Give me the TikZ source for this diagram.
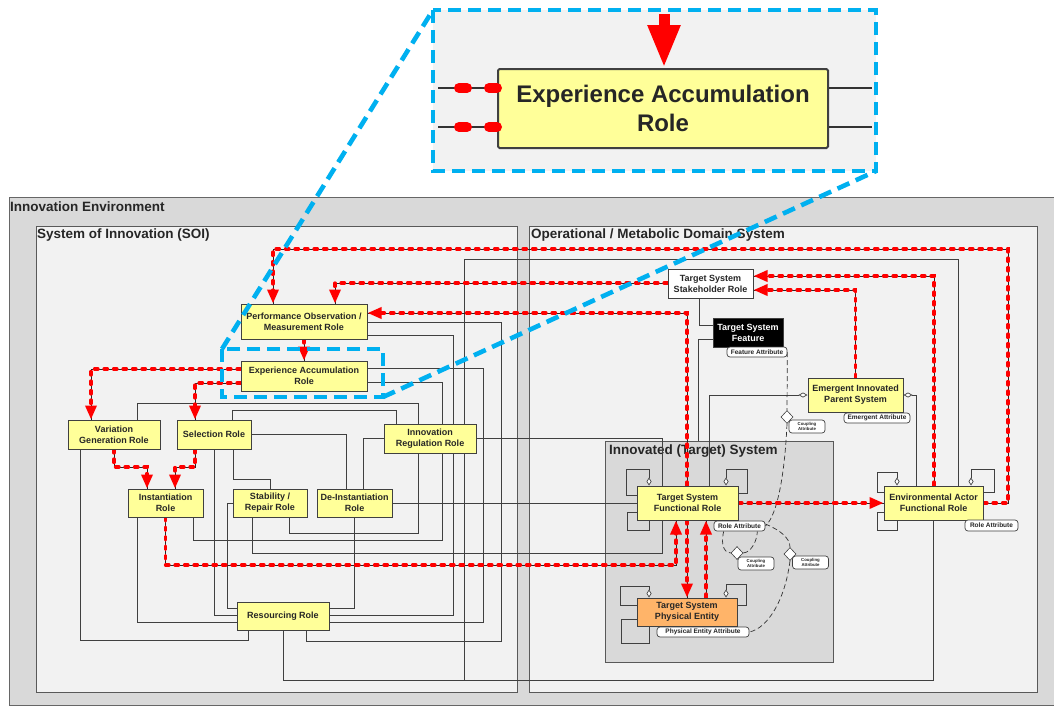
\documentclass[tikz,border=0pt]{standalone}
\usepackage{fontspec}
\setmainfont{Liberation Sans}
\usetikzlibrary{arrows.meta,shapes.geometric}
\definecolor{yel}{HTML}{FFFF99}
\definecolor{envgray}{HTML}{D9D9D9}
\definecolor{boxgray}{HTML}{F2F2F2}
\definecolor{orng}{HTML}{FFB469}
\definecolor{bord}{HTML}{404040}
\definecolor{zoomblue}{HTML}{00B0F0}
\pgfdeclarelayer{bg}
\pgfdeclarelayer{lines}
\pgfdeclarelayer{top}
\pgfsetlayers{bg,lines,main,top}
\begin{document}
\begin{tikzpicture}[x=1pt,y=-1pt,
 role/.style={draw=bord,line width=1pt,fill=yel,align=center,inner sep=0pt,font=\bfseries\fontsize{9}{11}\selectfont,text=black!85},
 attr/.style={draw=bord,line width=0.7pt,fill=white,rounded corners=3pt,inner sep=0pt,align=center,font=\bfseries\fontsize{6.5}{7}\selectfont,text=black!85},
 couple/.style={attr,font=\bfseries\fontsize{4.3}{4.8}\selectfont,minimum width=36pt,minimum height=13pt},
 dia/.style={diamond,draw=bord,fill=white,line width=0.6pt,minimum width=12pt,minimum height=13pt,inner sep=0pt},
 conn/.style={draw=bord,line width=0.9pt},
 agg/.style={conn,-{Diamond[fill=white,length=8pt,width=5pt,line width=0.7pt]}},
 flow/.style={draw=red,line width=3.3pt,line cap=round,dash pattern=on 3.5pt off 6pt,preaction={draw=black!85,line width=0.8pt,solid,-},-{Triangle[length=14pt,width=11pt]}},
 dashc/.style={draw=black!80,line width=0.7pt,dash pattern=on 5pt off 3pt},
 zoomline/.style={draw=zoomblue,line width=4.6pt,dash pattern=on 13pt off 7pt},
 heading/.style={font=\bfseries\fontsize{13.5}{15}\selectfont,text=black!85,inner sep=0pt,anchor=base west},
]
\useasboundingbox (0,0) rectangle (1054,707);

\begin{pgfonlayer}{bg}
\fill[white] (0,0) rectangle (1054,707);
\draw[fill=envgray,draw=black!60,line width=1pt] (9,197) rectangle (1062,705);
\draw[fill=boxgray,draw=black!65,line width=1pt] (36,226) rectangle (517,692);
\draw[fill=boxgray,draw=black!65,line width=1pt] (529,226) rectangle (1037,692);
\draw[fill=envgray,draw=black!65,line width=1pt] (605,441) rectangle (833,662);
\node[heading] (hie) at (10,211) {Innovation Environment};
\node[heading] (hsoi) at (37,238) {System of Innovation (SOI)};
\node[heading] (hop) at (531,238) {Operational / Metabolic Domain System};
\node[heading] (hin) at (609,454) {Innovated (Target) System};
\end{pgfonlayer}

% ---------- nodes ----------
\node[role,minimum width=126pt,minimum height=35pt] (po) at (304,321.5) {Performance Observation /\\Measurement Role};
\node[role,minimum width=126pt,minimum height=30pt] (ea) at (304,376) {Experience Accumulation\\Role};
\node[role,minimum width=92pt,minimum height=29pt] (vg) at (114,434.5) {Variation\\Generation Role};
\node[role,minimum width=74pt,minimum height=29pt] (sel) at (214,434.5) {Selection Role};
\node[role,minimum width=75pt,minimum height=28pt] (inst) at (165.5,503) {Instantiation\\Role};
\node[role,minimum width=74pt,minimum height=28pt] (stab) at (270,503) {Stability /\\Repair Role};
\node[role,minimum width=75pt,minimum height=28pt] (di) at (354.5,503) {De-Instantiation\\Role};
\node[role,minimum width=92pt,minimum height=29pt] (ir) at (430,438.5) {Innovation\\Regulation Role};
\node[role,minimum width=92pt,minimum height=28pt] (res) at (283,616) {Resourcing Role};
\node[role,fill=white,minimum width=85pt,minimum height=29pt] (sh) at (710.5,283.5) {Target System\\Stakeholder Role};
\node[role,fill=black,text=white,minimum width=70pt,minimum height=29pt] (feat) at (748,332.5) {Target System\\Feature};
\node[role,minimum width=95pt,minimum height=34pt] (em) at (855.5,395) {Emergent Innovated\\Parent System};
\node[role,minimum width=101pt,minimum height=34pt] (fr) at (687.5,503) {Target System\\Functional Role};
\node[role,fill=orng,minimum width=100pt,minimum height=28pt] (pe) at (687,612) {Target System\\Physical Entity};
\node[role,minimum width=99pt,minimum height=34pt] (env) at (933.5,503) {Environmental Actor\\Functional Role};

\node[attr,minimum width=60pt,minimum height=10pt] (fa) at (757,352) {Feature Attribute};
\node[attr,minimum width=66pt,minimum height=10pt] (eatt) at (877,418) {Emergent Attribute};
\node[attr,minimum width=51pt,minimum height=10pt] (ra) at (739.5,526) {Role Attribute};
\node[attr,minimum width=53pt,minimum height=11pt] (ra2) at (991.5,525.5) {Role Attribute};
\node[attr,minimum width=92pt,minimum height=10pt] (pa) at (703,632) {Physical Entity Attribute};
\node[dia] (d1) at (787,417) {};
\node[dia] (d2) at (737,553) {};
\node[dia] (d3) at (790,554) {};
\node[couple] (c1) at (807,426.5) {Coupling\\Attribute};
\node[couple] (c2) at (756,563.5) {Coupling\\Attribute};
\node[couple] (c3) at (810.5,562.5) {Coupling\\Attribute};

% ---------- connectors ----------
\begin{pgfonlayer}{lines}
\coordinate (itop) at (698,441);
\draw[conn] (po.east|-0,322) -| (501,641) -| (res.south-|306,0);
\draw[conn] (po.east|-0,335) -| (453,615) -- (res.east|-0,615);
\draw[conn] (ea.east|-0,368) -| (483,622) -- (res.east|-0,622);
\draw[conn] (ea.east|-0,382) -| (442,540) -| (inst.south-|193,0);
\draw[conn] (vg.north-|137,0) |- (418,403) |- (289,533) -- (stab.south-|289,0);
\draw[conn] (sel.north-|232,0) |- (396,410) -- (ir.north-|396,0);
\draw[conn] (sel.east|-0,434) -| (di.north-|346,0);
\draw[conn] (ir.west|-0,438) -| (di.north-|363,0);
\draw[conn] (ir.east|-0,438) -| (662,553) -| (stab.south-|252,0);
\draw[conn] (sel.south-|233,0) |- (270,479) -- (stab.north);
\draw[conn] (sel.south-|214,0) |- (res.west|-0,615);
\draw[conn] (stab.west|-0,503) -| (227,608) -- (res.west|-0,608);
\draw[conn] (inst.south-|137,0) |- (res.west|-0,622);
\draw[conn] (vg.south-|80,0) |- (248,640) -- (res.south-|248,0);
\draw[conn] (di.south) |- (res.east|-0,608);
\draw[conn] (di.east) -- (fr.west);
\draw[conn] (res.south) |- (464,680) |- (958,259) -- (env.north-|958,0);
\draw[conn] (env.south) |- (464,680);
\draw[conn] (sh.south-|699,0) |- (feat.west|-0,325);
\draw[conn] (feat.west|-0,339) -| (itop);
\draw[conn,{Diamond[fill=white,length=9pt,width=5pt,line width=0.7pt]}-] (em.west) -| (fr.north-|709,0);
\draw[conn,{Diamond[fill=white,length=9pt,width=5pt,line width=0.7pt]}-] (em.east) -| (env.north-|916,0);
% self loops
\draw[agg] (fr.west|-0,495) -- (626,495) |- (649,469) -- (fr.north-|649,0);
\draw[conn] (fr.west|-0,512) -- (627,512) |- (649,530) -- (fr.south-|649,0);
\draw[agg] (fr.east|-0,493) -- (747,493) |- (726,469) -- (fr.north-|726,0);
\draw[agg] (pe.west|-0,605) -- (620,605) |- (649,586) -- (pe.north-|649,0);
\draw[conn] (pe.west|-0,619) -- (621,619) |- (649,643) -- (pe.south-|649,0);
\draw[agg] (pe.east|-0,605) -- (746,605) |- (726,584) -- (pe.north-|726,0);
\draw[agg] (env.west|-0,492) -- (877,492) |- (897,472) -- (env.north-|897,0);
\draw[conn] (env.west|-0,512) -- (877,512) |- (897,530) -- (env.south-|897,0);
\draw[agg] (env.east|-0,492) -- (994,492) |- (971,469) -- (env.north-|971,0);
% coupling dashed curves
\draw[dashc] (fa.east) -- (d1.north);
\draw[dashc] (d1.south) .. controls (785,470) and (778,515) .. (ra.east);
\draw[dashc] ([xshift=10pt]ra.south west) .. controls (720,548) and (726,553) .. (d2.west);
\draw[dashc] (d2.east) .. controls (752,552) and (757,540) .. ([xshift=-8pt]ra.south east);
\draw[dashc] ([yshift=2pt]ra.east) .. controls (780,530) and (790,538) .. (d3.north);
\draw[dashc] (d3.south) .. controls (785,600) and (768,628) .. (pa.east);
% red flows
\draw[flow] (env.east) -| (1008,249) -| (po.north-|273,0);
\draw[flow] (sh.west|-0,283) -| (po.north-|335,0);
\draw[flow] (fr.north-|687,0) |- (po.east|-0,313);
\draw[flow] (fr.south-|687,0) -- (pe.north-|687,0);
\draw[flow] (pe.north-|706,0) -- (fr.south-|706,0);
\draw[flow] (inst.south) |- (676,565) -- (fr.south-|676,0);
\draw[flow] (fr.east) -- (env.west);
\draw[flow] (env.north-|934,0) |- (sh.east|-0,276);
\draw[flow] (em.north) |- (sh.east|-0,290);
\draw[flow] (ea.west|-0,369) -| (vg.north-|91,0);
\draw[flow] (ea.west|-0,383) -| (sel.north-|195,0);
\draw[flow] (po.south) -- (ea.north);
\draw[flow] (vg.south-|114,0) |- (147,467) -- (inst.north-|147,0);
\draw[flow] (sel.south-|195,0) |- (175,467) -- (inst.north-|175,0);
\end{pgfonlayer}

% ---------- zoom inset ----------
\begin{pgfonlayer}{top}
\fill[boxgray] (433,10) rectangle (876,171);
\node[draw=bord,line width=2pt,fill=yel,rounded corners=1.5pt,minimum width=330pt,minimum height=79pt,inner sep=0pt,align=center,font=\bfseries\fontsize{24}{29}\selectfont,text=black!85] (bigea) at (663,108.5) {Experience Accumulation\\Role};
\coordinate (arrtop) at (664,14);
\coordinate (inl1) at (438,88);
\coordinate (inl2) at (438,127);
\coordinate (inr1) at (872,88);
\coordinate (inr2) at (872,127);
\draw[red,line width=11pt,-{Triangle[length=43pt,width=30pt]}] (arrtop) -- (bigea.north-|664,0);
\draw[black!80,line width=2.5pt] (bigea.west|-0,88) -- (inl1);
\draw[black!80,line width=2.5pt] (bigea.west|-0,127) -- (inl2);
\draw[red,line width=10pt,line cap=round,dash pattern=on 8pt off 22pt] (bigea.west|-0,88) -- (inl1);
\draw[red,line width=10pt,line cap=round,dash pattern=on 8pt off 22pt] (bigea.west|-0,127) -- (inl2);
\draw[black!80,line width=2pt] (bigea.east|-0,88) -- (inr1);
\draw[black!80,line width=2pt] (bigea.east|-0,127) -- (inr2);
\coordinate (zbtl) at (433,10);
\coordinate (zbbr) at (876,171);
\coordinate (zstl) at (222,349);
\coordinate (zsbr) at (383,397);
\draw[zoomline] (zbtl) rectangle (zbbr);
\draw[zoomline] (zstl) rectangle (zsbr);
\draw[zoomline] (zstl) -- (zbtl);
\draw[zoomline] (zsbr) -- (zbbr);
\end{pgfonlayer}
\end{tikzpicture}
\end{document}
